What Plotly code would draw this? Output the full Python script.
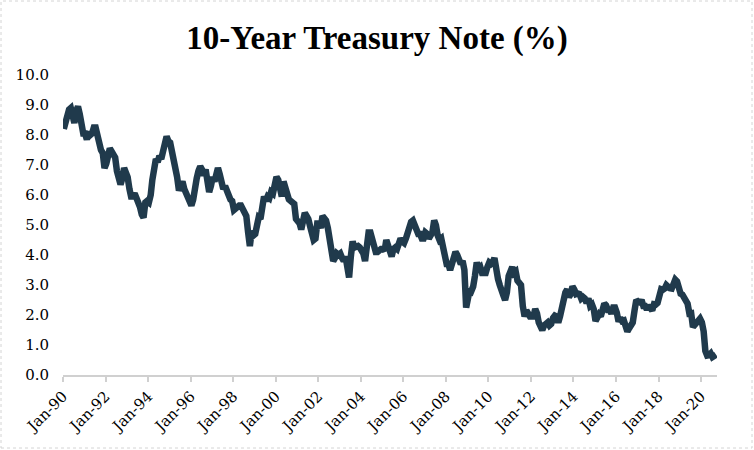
import pandas as pd
import plotly.graph_objects as go

# Rendimiento mensual aproximado del bono a 10 años (%)
y1990 = [8.20, 8.45, 8.60, 8.85, 8.90, 8.50, 8.40, 8.80, 8.95, 8.70, 8.35, 8.05]
y1991 = [8.05, 7.85, 8.10, 8.00, 8.05, 8.25, 8.25, 7.90, 7.60, 7.50, 7.40, 6.90]
y1992 = [7.05, 7.35, 7.55, 7.45, 7.35, 7.25, 6.80, 6.55, 6.35, 6.55, 6.90, 6.75]
y1993 = [6.60, 6.20, 5.95, 5.95, 6.05, 5.90, 5.80, 5.60, 5.35, 5.25, 5.75, 5.80]
y1994 = [5.75, 6.00, 6.50, 7.00, 7.20, 7.10, 7.30, 7.20, 7.50, 7.75, 7.95, 7.80]
y1995 = [7.75, 7.45, 7.20, 7.05, 6.60, 6.15, 6.30, 6.45, 6.20, 6.05, 5.90, 5.70]
y1996 = [5.65, 5.85, 6.30, 6.55, 6.80, 6.95, 6.85, 6.65, 6.85, 6.50, 6.10, 6.30]
y1997 = [6.60, 6.45, 6.75, 6.90, 6.70, 6.50, 6.20, 6.30, 6.20, 6.00, 5.85, 5.80]
y1998 = [5.50, 5.55, 5.65, 5.65, 5.65, 5.50, 5.45, 5.30, 4.75, 4.30, 4.80, 4.65]
y1999 = [4.70, 5.00, 5.25, 5.20, 5.55, 5.95, 5.80, 5.95, 5.90, 6.10, 6.05, 6.30]
y2000 = [6.60, 6.50, 6.20, 5.95, 6.45, 6.10, 6.05, 5.85, 5.80, 5.75, 5.70, 5.20]
y2001 = [5.15, 5.05, 4.85, 5.15, 5.40, 5.30, 5.20, 4.95, 4.70, 4.50, 4.55, 5.05]
y2002 = [5.05, 4.90, 5.30, 5.20, 5.15, 4.90, 4.60, 4.25, 3.80, 3.90, 4.05, 4.00]
y2003 = [4.05, 3.90, 3.80, 3.95, 3.55, 3.25, 3.95, 4.45, 4.25, 4.30, 4.30, 4.25]
y2004 = [4.15, 4.05, 3.80, 4.35, 4.75, 4.75, 4.50, 4.25, 4.10, 4.10, 4.20, 4.20]
y2005 = [4.20, 4.15, 4.50, 4.30, 4.10, 3.95, 4.20, 4.25, 4.20, 4.45, 4.55, 4.45]
y2006 = [4.40, 4.55, 4.70, 5.00, 5.10, 5.15, 5.05, 4.85, 4.70, 4.70, 4.55, 4.55]
y2007 = [4.75, 4.70, 4.55, 4.70, 4.75, 5.15, 5.00, 4.65, 4.50, 4.55, 4.15, 4.10]
y2008 = [3.70, 3.70, 3.50, 3.70, 3.90, 4.10, 4.00, 3.85, 3.70, 3.80, 3.50, 2.25]
y2009 = [2.50, 2.85, 2.80, 2.95, 3.30, 3.75, 3.55, 3.60, 3.40, 3.40, 3.40, 3.60]
y2010 = [3.75, 3.70, 3.75, 3.90, 3.40, 3.20, 3.00, 2.70, 2.65, 2.50, 2.75, 3.30]
y2011 = [3.40, 3.60, 3.40, 3.45, 3.15, 3.00, 3.00, 2.30, 1.95, 2.15, 2.00, 1.95]
y2012 = [1.95, 1.95, 2.20, 2.05, 1.75, 1.60, 1.50, 1.65, 1.70, 1.75, 1.65, 1.70]
y2013 = [1.90, 1.98, 1.95, 1.75, 1.95, 2.30, 2.60, 2.75, 2.85, 2.60, 2.70, 2.95]
y2014 = [2.85, 2.70, 2.72, 2.70, 2.55, 2.60, 2.55, 2.40, 2.55, 2.30, 2.35, 2.20]
y2015 = [1.80, 1.98, 2.02, 1.95, 2.20, 2.38, 2.32, 2.17, 2.17, 2.05, 2.25, 2.25]
y2016 = [2.08, 1.78, 1.90, 1.80, 1.82, 1.62, 1.45, 1.56, 1.62, 1.75, 2.15, 2.50]
y2017 = [2.45, 2.42, 2.50, 2.30, 2.30, 2.18, 2.32, 2.20, 2.15, 2.36, 2.35, 2.40]
y2018 = [2.58, 2.86, 2.84, 2.88, 3.00, 2.92, 2.89, 2.88, 3.02, 3.18, 3.12, 2.82]
y2019 = [2.71, 2.68, 2.55, 2.52, 2.38, 2.05, 2.06, 1.60, 1.68, 1.72, 1.81, 1.88]
y2020 = [1.76, 1.45, 0.80, 0.65, 0.66, 0.72, 0.60, 0.62, 0.68]

tick_years = list(range(1990, 2021, 2))
tick_labels = [f"Jan-{y % 100:02d}" for y in tick_years]

yields = (y1990 + y1991 + y1992 + y1993 + y1994 + y1995 + y1996 + y1997 + y1998 + y1999
          + y2000 + y2001 + y2002 + y2003 + y2004 + y2005 + y2006 + y2007 + y2008 + y2009
          + y2010 + y2011 + y2012 + y2013 + y2014 + y2015 + y2016 + y2017 + y2018 + y2019
          + y2020)
fechas = pd.date_range("1990-01-01", periods=len(yields), freq="MS") + pd.Timedelta(days=14)

fig = go.Figure()
fig.add_trace(go.Scatter(
    x=fechas, y=yields, mode="lines",
    line=dict(color="#203a4c", width=6.5),
    showlegend=False, hoverinfo="x+y"
))

# tamaño del área de trazado en px, para poner el marco alrededor de la figura
W, H = 754, 450
ml, mr, mt, mb = 63, 37, 75, 75
pw, ph = W - ml - mr, H - mt - mb

fuente_ejes = dict(family="DejaVu Serif", size=15, color="black")

fig.update_layout(
    width=W, height=H,
    paper_bgcolor="white", plot_bgcolor="white",
    margin=dict(l=ml, r=mr, t=mt, b=mb),
    title=dict(
        text="10-Year Treasury Note (%)",
        x=0.5, xanchor="center", y=1 - 37 / H, yanchor="middle", yref="container",
        font=dict(family="Liberation Serif", size=33, color="black", weight="bold")
    ),
    xaxis=dict(
        type="date",
        range=["1990-01-01", "2020-10-01"],
        tickvals=[f"{y}-01-01" for y in tick_years],
        ticktext=tick_labels,
        tickangle=-45,
        tickfont=fuente_ejes,
        showgrid=False, zeroline=False,
        showline=True, linecolor="#d0d0d0", linewidth=1.5,
        ticks="outside", ticklen=5, tickcolor="#d0d0d0", tickwidth=1.5,
    ),
    yaxis=dict(
        range=[0, 10], dtick=1, tickformat=".1f",
        tickfont=fuente_ejes,
        showgrid=False, zeroline=False, showline=False,
        ticklabelstandoff=13,
    ),
    shapes=[dict(
        type="rect", xref="paper", yref="paper",
        x0=(1 - ml) / pw, x1=(W - 2 - ml) / pw,
        y0=(ph + mt - (H - 2)) / ph, y1=(ph + mt - 1) / ph,
        line=dict(color="#d4d4d4", width=1, dash="dot"),
        fillcolor="rgba(0,0,0,0)", layer="below",
    )],
)

# quitar el margen por defecto del <body> para que la figura quede en (0, 0)
fig.write_html("out.html", config={"displayModeBar": False},
               post_script="document.body.style.margin = '0';")
